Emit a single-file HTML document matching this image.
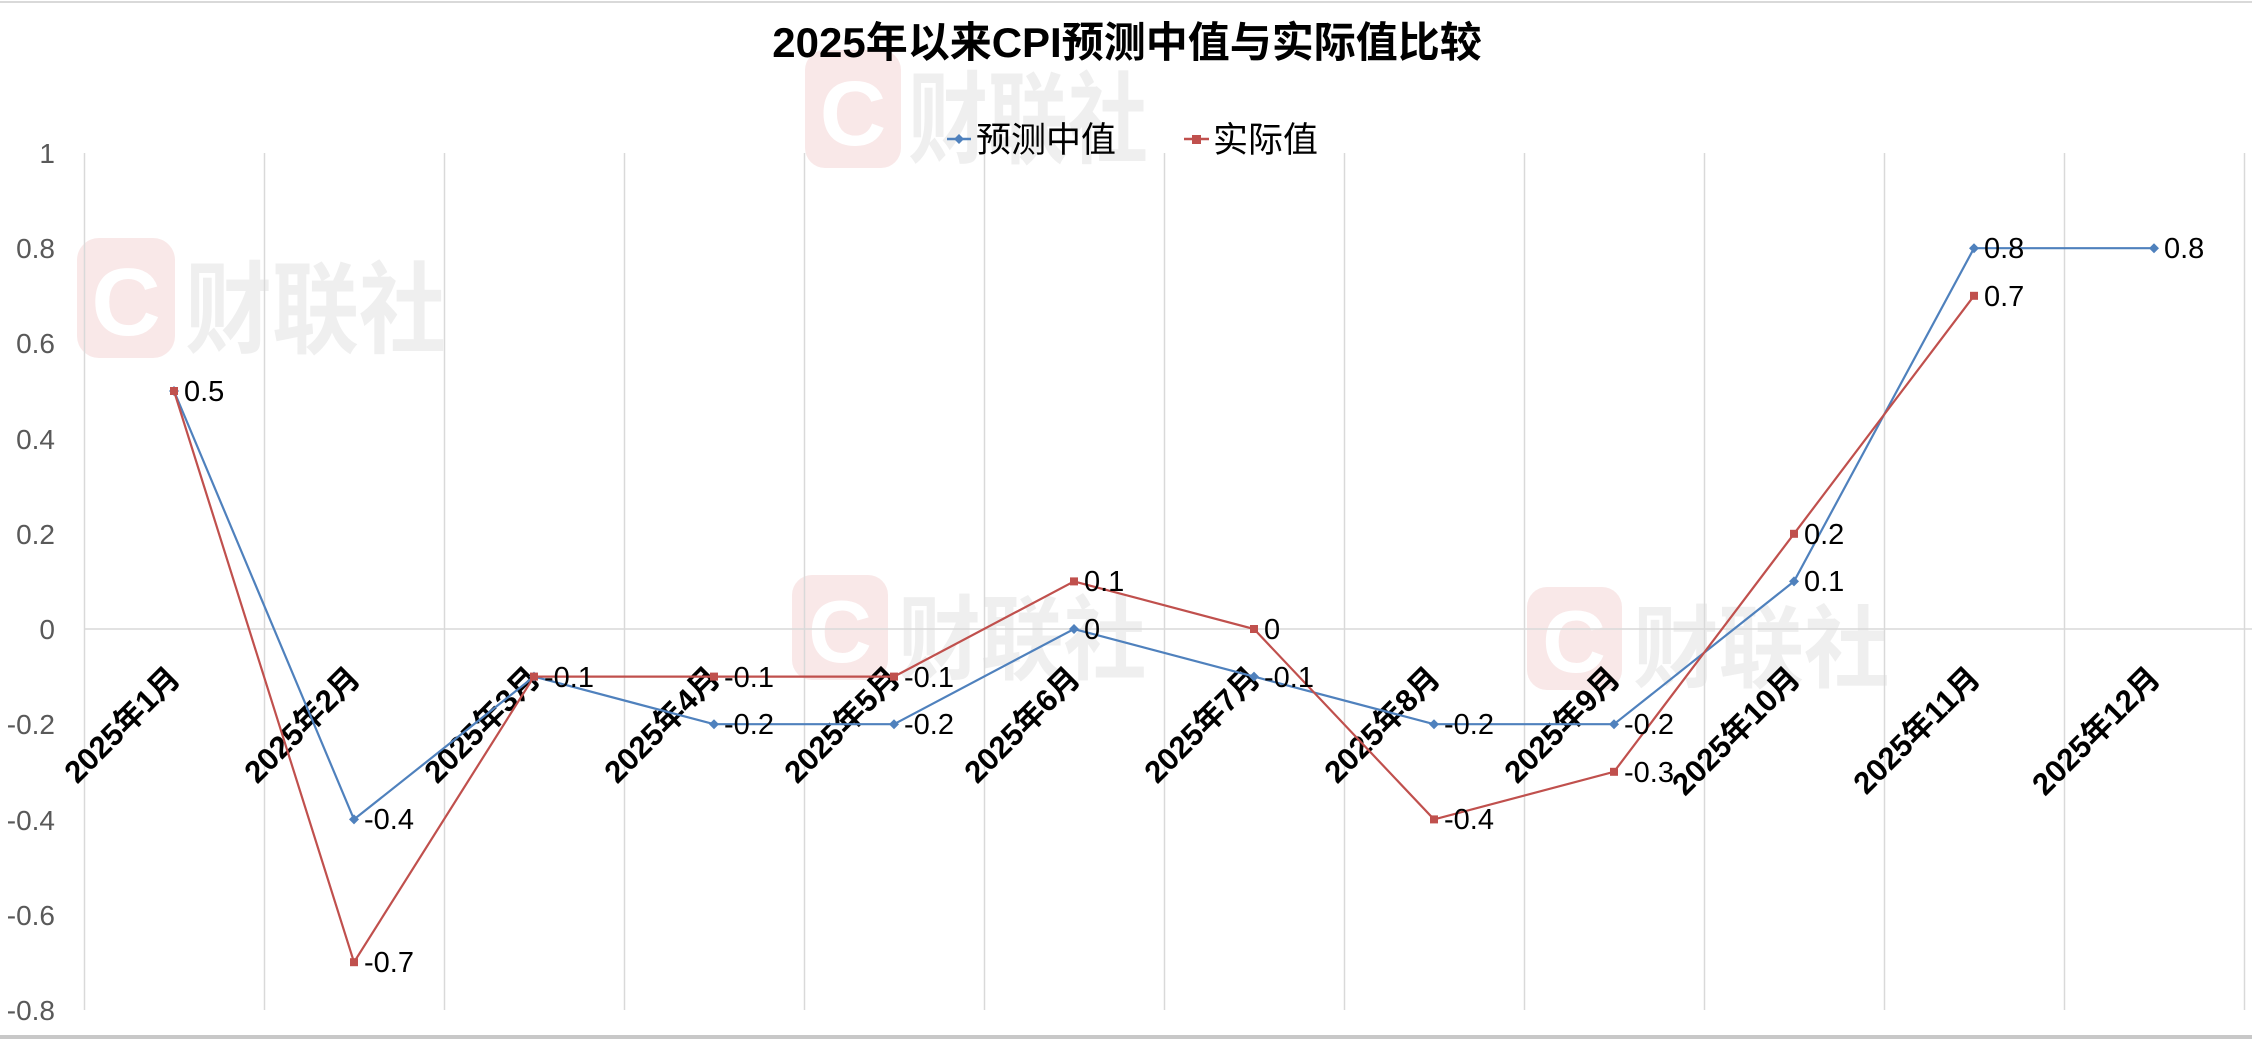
<!DOCTYPE html>
<html><head><meta charset="utf-8"><style>
html,body{margin:0;padding:0;background:#fff;}
svg{display:block;}
</style></head><body>
<svg width="2252" height="1040" viewBox="0 0 2252 1040" xmlns="http://www.w3.org/2000/svg" font-family="Liberation Sans, Noto Sans CJK SC, sans-serif">
<rect width="2252" height="1040" fill="#fff"/>
<line x1="0" y1="2" x2="2252" y2="2" stroke="#d9d9d9" stroke-width="2"/>
<line x1="0" y1="1037" x2="2252" y2="1037" stroke="#c8c8c8" stroke-width="4"/>
<!-- watermarks -->
<g>
 <rect x="77" y="238" width="98" height="120" rx="22" fill="#f9e8e8"/>
 <text x="126" y="335" font-size="96" font-weight="bold" fill="#fff" text-anchor="middle">C</text>
 <text x="185" y="345" font-size="100" font-weight="bold" fill="#efefef" font-family="Noto Sans CJK SC, sans-serif" transform="translate(185 0) scale(0.87 1) translate(-185 0)">财联社</text>
 <rect x="805" y="50" width="96" height="118" rx="20" fill="#f9e8e8"/>
 <text x="853" y="145" font-size="92" font-weight="bold" fill="#fff" text-anchor="middle">C</text>
 <text x="908" y="155" font-size="100" font-weight="bold" fill="#efefef" font-family="Noto Sans CJK SC, sans-serif" transform="translate(908 0) scale(0.8 1) translate(-908 0)">财联社</text>
 <rect x="792" y="575" width="96" height="105" rx="20" fill="#f9e8e8"/>
 <text x="840" y="662" font-size="88" font-weight="bold" fill="#fff" text-anchor="middle">C</text>
 <text x="898" y="672" font-size="92" font-weight="bold" fill="#efefef" font-family="Noto Sans CJK SC, sans-serif" transform="translate(898 0) scale(0.9 1) translate(-898 0)">财联社</text>
 <rect x="1527" y="587" width="95" height="103" rx="20" fill="#f9e8e8"/>
 <text x="1574" y="672" font-size="88" font-weight="bold" fill="#fff" text-anchor="middle">C</text>
 <text x="1633" y="680" font-size="90" font-weight="bold" fill="#efefef" font-family="Noto Sans CJK SC, sans-serif" transform="translate(1633 0) scale(0.95 1) translate(-1633 0)">财联社</text>
</g>
<!-- gridlines -->
<g stroke="#d9d9d9" stroke-width="1.5">
 <line x1="84.5" y1="153" x2="84.5" y2="1010"/><line x1="264.5" y1="153" x2="264.5" y2="1010"/><line x1="444.5" y1="153" x2="444.5" y2="1010"/><line x1="624.5" y1="153" x2="624.5" y2="1010"/><line x1="804.5" y1="153" x2="804.5" y2="1010"/><line x1="984.5" y1="153" x2="984.5" y2="1010"/><line x1="1164.5" y1="153" x2="1164.5" y2="1010"/><line x1="1344.5" y1="153" x2="1344.5" y2="1010"/><line x1="1524.5" y1="153" x2="1524.5" y2="1010"/><line x1="1704.5" y1="153" x2="1704.5" y2="1010"/><line x1="1884.5" y1="153" x2="1884.5" y2="1010"/><line x1="2064.5" y1="153" x2="2064.5" y2="1010"/><line x1="2244.5" y1="153" x2="2244.5" y2="1010"/>
 <line x1="84" y1="629" x2="2252" y2="629"/>
</g>
<!-- y labels -->
<g font-size="28" fill="#595959" text-anchor="end">
 <text x="55" y="163">1</text><text x="55" y="258">0.8</text><text x="55" y="353">0.6</text><text x="55" y="449">0.4</text><text x="55" y="544">0.2</text><text x="55" y="639">0</text><text x="55" y="734">-0.2</text><text x="55" y="830">-0.4</text><text x="55" y="925">-0.6</text><text x="55" y="1020">-0.8</text>
</g>
<!-- title -->
<text x="1127" y="57" font-size="42" font-weight="bold" text-anchor="middle" fill="#000">2025年以来CPI预测中值与实际值比较</text>
<!-- legend -->
<line x1="947" y1="139" x2="971" y2="139" stroke="#4f81bd" stroke-width="2.5"/>
<path d="M959 134 l5 5 l-5 5 l-5 -5z" fill="#4f81bd"/>
<text x="976" y="152" font-size="35" fill="#000" font-family="Noto Sans CJK SC, sans-serif">预测中值</text>
<line x1="1184" y1="139" x2="1209" y2="139" stroke="#c0504d" stroke-width="2.5"/>
<rect x="1192" y="135" width="9" height="9" fill="#c0504d"/>
<text x="1213" y="152" font-size="35" fill="#000" font-family="Noto Sans CJK SC, sans-serif">实际值</text>
<!-- category labels -->
<g font-size="31" font-weight="bold" fill="#000" text-anchor="end">
 <text transform="translate(182 680) rotate(-45)">2025年1月</text>
 <text transform="translate(362 680) rotate(-45)">2025年2月</text>
 <text transform="translate(542 680) rotate(-45)">2025年3月</text>
 <text transform="translate(722 680) rotate(-45)">2025年4月</text>
 <text transform="translate(902 680) rotate(-45)">2025年5月</text>
 <text transform="translate(1082 680) rotate(-45)">2025年6月</text>
 <text transform="translate(1262 680) rotate(-45)">2025年7月</text>
 <text transform="translate(1442 680) rotate(-45)">2025年8月</text>
 <text transform="translate(1622 680) rotate(-45)">2025年9月</text>
 <text transform="translate(1802 680) rotate(-45)">2025年10月</text>
 <text transform="translate(1982 680) rotate(-45)">2025年11月</text>
 <text transform="translate(2162 680) rotate(-45)">2025年12月</text>
</g>
<!-- series: forecast -->
<polyline fill="none" stroke="#4f81bd" stroke-width="2.2" points="174,391 354,819.4 534,676.6 714,724.2 894,724.2 1074,629 1254,676.6 1434,724.2 1614,724.2 1794,581.4 1974,248.2 2154,248.2"/>
<g fill="#4f81bd">
 <path d="M174 386l5 5l-5 5l-5-5z"/><path d="M354 814.4l5 5l-5 5l-5-5z"/><path d="M534 671.6l5 5l-5 5l-5-5z"/><path d="M714 719.2l5 5l-5 5l-5-5z"/><path d="M894 719.2l5 5l-5 5l-5-5z"/><path d="M1074 624l5 5l-5 5l-5-5z"/><path d="M1254 671.6l5 5l-5 5l-5-5z"/><path d="M1434 719.2l5 5l-5 5l-5-5z"/><path d="M1614 719.2l5 5l-5 5l-5-5z"/><path d="M1794 576.4l5 5l-5 5l-5-5z"/><path d="M1974 243.2l5 5l-5 5l-5-5z"/><path d="M2154 243.2l5 5l-5 5l-5-5z"/>
</g>
<!-- series: actual -->
<polyline fill="none" stroke="#c0504d" stroke-width="2.2" points="174,391 354,962.2 534,676.6 714,676.6 894,676.6 1074,581.4 1254,629 1434,819.4 1614,771.8 1794,533.8 1974,295.8"/>
<g fill="#c0504d">
 <rect x="170" y="387" width="8" height="8"/><rect x="350" y="958.2" width="8" height="8"/><rect x="530" y="672.6" width="8" height="8"/><rect x="710" y="672.6" width="8" height="8"/><rect x="890" y="672.6" width="8" height="8"/><rect x="1070" y="577.4" width="8" height="8"/><rect x="1250" y="625" width="8" height="8"/><rect x="1430" y="815.4" width="8" height="8"/><rect x="1610" y="767.8" width="8" height="8"/><rect x="1790" y="529.8" width="8" height="8"/><rect x="1970" y="291.8" width="8" height="8"/>
</g>
<!-- data labels -->
<g font-size="29" fill="#000">
 <text x="184" y="401">0.5</text>
 <text x="364" y="829">-0.4</text><text x="364" y="972">-0.7</text>
 <text x="544" y="687">-0.1</text>
 <text x="724" y="734">-0.2</text><text x="724" y="687">-0.1</text>
 <text x="904" y="734">-0.2</text><text x="904" y="687">-0.1</text>
 <text x="1084" y="639">0</text><text x="1084" y="591">0.1</text>
 <text x="1264" y="687">-0.1</text><text x="1264" y="639">0</text>
 <text x="1444" y="734">-0.2</text><text x="1444" y="829">-0.4</text>
 <text x="1624" y="734">-0.2</text><text x="1624" y="782">-0.3</text>
 <text x="1804" y="591">0.1</text><text x="1804" y="544">0.2</text>
 <text x="1984" y="258">0.8</text><text x="1984" y="306">0.7</text>
 <text x="2164" y="258">0.8</text>
</g>
</svg>
</body></html>
